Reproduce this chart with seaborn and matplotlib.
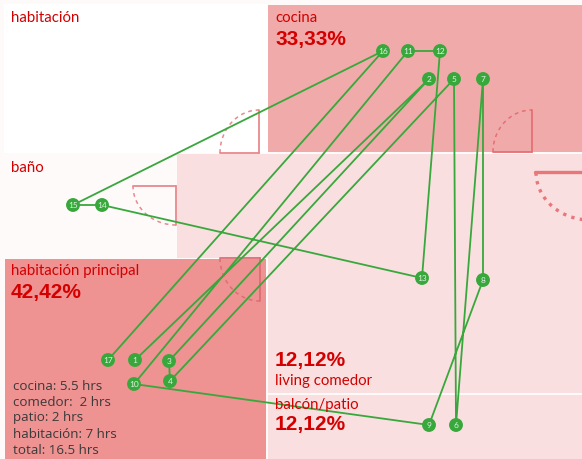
"""
Plano de departamento con recorrido numerado por habitaciones
"""
import numpy as np
import matplotlib
matplotlib.use('Agg')
import matplotlib.pyplot as plt
from matplotlib.patches import Rectangle
import pandas as pd
import seaborn as sns

# recorrido (en pixeles del plano)
paso = list(range(1, 18))
paso_x = [135, 429, 169, 170, 454, 456, 483, 483, 429, 134, 408, 440, 422, 102, 73, 383, 108]
paso_y = [360, 79, 361, 381, 79, 425, 79, 280, 425, 384, 51, 51, 278, 205, 205, 51, 360]

# habitaciones: x, y, ancho, alto, color
cuartos = [
    (4, 4, 264, 149, '#ffffff'),
    (268, 5, 314, 147, '#f0aaaa'),
    (5, 154, 172, 104, '#fffafa'),
    (177, 154, 405, 104, '#fadfe0'),
    (268, 258, 314, 135, '#fadfe0'),
    (268, 395, 314, 64, '#fadfe0'),
    (5, 259, 261, 200, '#ee9292'),
]

# puertas: centro x, centro y, radio x, radio y, angulo inicial, angulo final, color
puertas = [
    (259, 153, 39, 43, 180, 270, '#e8898c'),
    (176, 186, 43, 39, 90, 180, '#e8898c'),
    (532, 152, 39, 42, 180, 270, '#e56f73'),
    (260, 258, 40, 43, 90, 180, '#dc6e74'),
]

etiquetas = [
    (11, 17.5, 'habitación'), (275, 17.5, 'cocina'), (11, 167.5, 'baño'),
    (11, 271.5, 'habitación principal'), (275, 380.5, 'living comedor'),
    (275, 404.5, 'balcón/patio'),
]
porcentajes = [(275, 39.5, '33,33%'), (11, 292.5, '42,42%'), (275, 360.5, '12,12%'), (275, 424.5, '12,12%')]
resumen = ['cocina: 5.5 hrs', 'comedor:  2 hrs', 'patio: 2 hrs', 'habitación: 7 hrs', 'total: 16.5 hrs']
resumen_y = [386, 402, 418, 434, 450]

VERDE = '#38a83c'
ROJO = '#d40000'
PUERTA = '#e8777a'

sns.set_theme(style='white')
plt.rcParams['font.family'] = ['Lato', 'DejaVu Sans']

fig, ax = plt.subplots(figsize=(5.82, 4.59), dpi=100)
fig.patch.set_facecolor('#fffafa')
ax.set_position([0, 0, 1, 1])
ax.set_facecolor('#fffafa')

for x, y, w, h, color in cuartos:
    ax.add_patch(Rectangle((x, y), w, h, facecolor=color, edgecolor='none', zorder=1))

# puertas: arco punteado y marco
for cx, cy, rx, ry, a0, a1, color in puertas:
    t = np.radians(np.linspace(a0, a1, 40))
    ax.plot(cx + rx * np.cos(t), cy + ry * np.sin(t), color=color, lw=1.1,
            ls=(0, (2.5, 2.5)), zorder=2)
    ax.plot([cx - rx, cx], [cy, cy], color=color, lw=1.3, zorder=2)
    ax.plot([cx, cx], [cy, cy + ry if a0 == 90 else cy - ry], color=color, lw=1.3, zorder=2)

# puerta de entrada
t = np.radians(np.linspace(90, 180, 40))
ax.plot(590 + 54 * np.cos(t), 172 + 48 * np.sin(t), color=PUERTA, lw=2.4,
        ls=(0, (1, 1.6)), zorder=2)
ax.plot([535, 582], [172, 172], color=PUERTA, lw=2.4, zorder=2)

recorrido = pd.DataFrame({'paso': paso, 'x': paso_x, 'y': paso_y})
sns.lineplot(data=recorrido, x='x', y='y', sort=False, estimator=None, color=VERDE,
             lw=1.3, ax=ax, zorder=3)
sns.scatterplot(data=recorrido, x='x', y='y', s=100, color=VERDE, edgecolor='none',
                ax=ax, zorder=4, legend=False)
for _, fila in recorrido.iterrows():
    ax.text(fila['x'], fila['y'] + 0.3, str(fila['paso']), color='#dff2df', fontsize=6,
            ha='center', va='center', zorder=5)

for x, y, texto in etiquetas:
    ax.text(x, y, texto, color=ROJO, fontsize=10.8, ha='left', va='center', zorder=5)
for x, y, texto in porcentajes:
    ax.text(x, y, texto, color=ROJO, fontsize=15, fontweight='bold',
            family=['Liberation Sans', 'DejaVu Sans'], ha='left', va='center', zorder=5)
for y, texto in zip(resumen_y, resumen):
    ax.text(13, y, texto, color='#3a3a3a', fontsize=9.6, family=['Open Sans', 'DejaVu Sans'],
            ha='left', va='center', zorder=5)

ax.set_xlim(0, 582)
ax.set_ylim(459, 0)
ax.set_xlabel('')
ax.set_ylabel('')
ax.set_xticks([])
ax.set_yticks([])
sns.despine(ax=ax, left=True, bottom=True)

fig.savefig('out.png', dpi=100, facecolor=fig.get_facecolor())
plt.close(fig)
